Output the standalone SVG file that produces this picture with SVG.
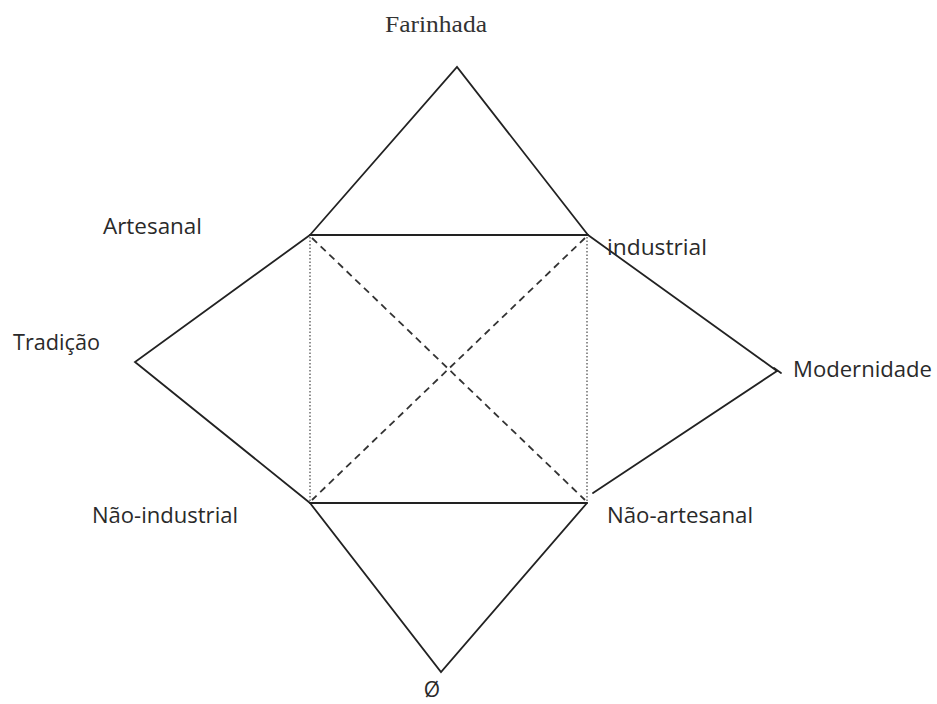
<svg xmlns="http://www.w3.org/2000/svg" width="937" height="704" viewBox="0 0 937 704">
<style>
.lbl{font-family:"Open Sans","Liberation Sans",sans-serif;font-size:21px;fill:#2a2a2a}
.ser{font-family:"Liberation Serif","DejaVu Serif",serif;font-size:24px;fill:#333}
.solid{stroke:#222;stroke-width:1.8;fill:none;stroke-linecap:round}
.dash{stroke:#333;stroke-width:1.8;fill:none;stroke-dasharray:7,5}
.dot{stroke:#555;stroke-width:1.3;fill:none;stroke-dasharray:1.5,2}
</style>
<rect width="937" height="704" fill="#fff"/>
<g id="connectors">
<polyline class="solid" points="310,235 457,67 588,235"/>
<line class="solid" x1="310" y1="235" x2="588" y2="235"/>
<polyline class="solid" points="310,235 135,362 310,503"/>
<line class="solid" x1="588" y1="235" x2="777" y2="371"/>
<line class="solid" x1="777" y1="371" x2="593" y2="493"/>
<line class="solid" x1="310" y1="503" x2="587" y2="503"/>
<polyline class="solid" points="310,503 441,672 587,503"/>
<line class="dot" x1="310" y1="237" x2="310" y2="501"/>
<line class="dot" x1="587" y1="237" x2="587" y2="501"/>
<line class="dash" x1="312" y1="238" x2="585" y2="500"/>
<line class="dash" x1="585" y1="238" x2="312" y2="500"/>
<line class="solid" x1="774" y1="368" x2="781" y2="373"/>
</g>
<g id="farinhada"><text class="ser" x="385" y="32" textLength="102" lengthAdjust="spacingAndGlyphs">Farinhada</text></g>
<g id="artesanal"><text class="lbl" x="103" y="234" textLength="99" lengthAdjust="spacingAndGlyphs">Artesanal</text></g>
<g id="industrial"><text class="lbl" x="607" y="255" textLength="100" lengthAdjust="spacingAndGlyphs">industrial</text></g>
<g id="tradicao"><text class="lbl" x="13" y="350" textLength="87" lengthAdjust="spacingAndGlyphs">Tradição</text></g>
<g id="modernidade"><text class="lbl" x="793" y="377" textLength="139" lengthAdjust="spacingAndGlyphs">Modernidade</text></g>
<g id="nao-industrial"><text class="lbl" x="92" y="523" textLength="146" lengthAdjust="spacingAndGlyphs">Não-industrial</text></g>
<g id="nao-artesanal"><text class="lbl" x="607" y="523" textLength="146" lengthAdjust="spacingAndGlyphs">Não-artesanal</text></g>
<g id="vazio"><text class="lbl" x="432" y="697" text-anchor="middle" font-size="22">Ø</text></g>
</svg>
